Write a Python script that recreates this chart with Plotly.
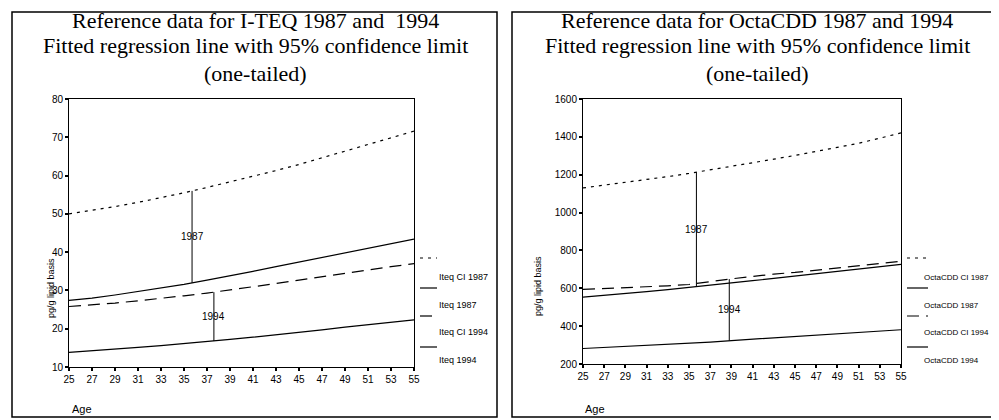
import numpy as np
import plotly.graph_objects as go

# the page body has a default 8px margin; the figure is sized and positioned to fit the window
OFF = 8
WIN_W, WIN_H = 999, 420
W, H = WIN_W - OFF, WIN_H - OFF

# ---------------- data ----------------
ages = [25, 27, 29, 31, 33, 35, 37, 39, 41, 43, 45, 47, 49, 51, 53, 55]
age_ticks = [25, 27, 29, 31, 33, 35, 37, 39, 41, 43, 45, 47, 49, 51, 53, 55]

# I-TEQ (left panel)
iteq_ci_1987 = [50.0, 50.9, 51.9, 53.0, 54.2, 55.5, 56.9, 58.3, 59.8, 61.3, 62.9, 64.6, 66.3, 68.0, 69.8, 71.6]
iteq_1987 = [27.4, 28.0, 28.8, 29.7, 30.6, 31.6, 32.7, 33.8, 35.0, 36.2, 37.4, 38.6, 39.9, 41.1, 42.3, 43.4]
iteq_ci_1994 = [25.8, 26.2, 26.7, 27.3, 27.9, 28.6, 29.3, 30.1, 30.9, 31.8, 32.7, 33.6, 34.5, 35.4, 36.2, 37.0]
iteq_1994 = [13.8, 14.2, 14.6, 15.1, 15.6, 16.1, 16.6, 17.2, 17.8, 18.4, 19.0, 19.7, 20.4, 21.0, 21.7, 22.3]
iteq_yticks = [10, 20, 30, 40, 50, 60, 70, 80]
iteq_mark_age_1987 = 35.7
iteq_mark_age_1994 = 37.6

# OctaCDD (right panel)
octa_ci_1987 = [1130, 1144, 1159, 1174, 1190, 1207, 1225, 1243, 1262, 1282, 1302, 1322, 1344, 1366, 1393, 1421]
octa_1987 = [553, 562, 572, 582, 593, 604, 617, 629, 640, 652, 664, 677, 689, 701, 714, 726]
octa_ci_1994 = [594, 598, 602, 607, 613, 620, 636, 650, 662, 675, 684, 696, 707, 719, 731, 743]
octa_1994 = [282, 287, 292, 297, 302, 308, 316, 324, 331, 337, 344, 352, 359, 366, 373, 381]
octa_yticks = [200, 400, 600, 800, 1000, 1200, 1400, 1600]
octa_mark_age_1987 = 35.7
octa_mark_age_1994 = 38.8

left_titles = ["Reference data for I-TEQ 1987 and  1994",
               "Fitted regression line with 95% confidence limit",
               "(one-tailed)"]
right_titles = ["Reference data for OctaCDD 1987 and 1994",
                "Fitted regression line with 95% confidence limit",
                "(one-tailed)"]
left_legend = ["Iteq CI 1987", "Iteq 1987", "Iteq CI 1994", "Iteq 1994"]
right_legend = ["OctaCDD CI 1987", "OctaCDD 1987", "OctaCDD CI 1994", "OctaCDD 1994"]
y_title = "pg/g lipid basis"
x_title = "Age"

# ---------------- helpers (window pixels -> paper) ----------------
def px(x):
    return (x - OFF) / W

def py(y):
    return 1 - (y - OFF) / H

SERIF = "Liberation Serif, Times New Roman, serif"
NARROW = "Liberation Sans Narrow, Arial Narrow, Liberation Sans, Arial, sans-serif"
SANS = "Liberation Sans, Arial, sans-serif"

DOT = "3px,5px"
DASH = "12px,7px"

fig = go.Figure()

def add_panel(xa, ya, ci87, l87, ci94, l94, m87, m94):
    styles = [(ci87, DOT), (l87, "solid"), (ci94, DASH), (l94, "solid")]
    for vals, dash in styles:
        fig.add_trace(go.Scatter(x=ages, y=vals, mode="lines", xaxis=xa, yaxis=ya,
                                 line=dict(color="black", width=1.2, dash=dash),
                                 showlegend=False, hoverinfo="skip"))
    for age, lo_s, hi_s, lab in [(m87, l87, ci87, "1987"), (m94, l94, ci94, "1994")]:
        lo = float(np.interp(age, ages, lo_s))
        hi = float(np.interp(age, ages, hi_s))
        fig.add_trace(go.Scatter(x=[age, age], y=[lo, hi], mode="lines", xaxis=xa, yaxis=ya,
                                 line=dict(color="black", width=1),
                                 showlegend=False, hoverinfo="skip"))
        fig.add_annotation(x=age, y=(lo + hi) / 2, xref=xa, yref=ya, text=lab,
                           showarrow=False, font=dict(family=NARROW, size=10, color="black"))

add_panel("x", "y", iteq_ci_1987, iteq_1987, iteq_ci_1994, iteq_1994,
          iteq_mark_age_1987, iteq_mark_age_1994)
add_panel("x2", "y2", octa_ci_1987, octa_1987, octa_ci_1994, octa_1994,
          octa_mark_age_1987, octa_mark_age_1994)

axis_common = dict(showline=True, mirror=True, linecolor="black", linewidth=1,
                   ticks="outside", ticklen=3, tickcolor="black", tickwidth=1.5,
                   showgrid=False, zeroline=False,
                   tickfont=dict(family=NARROW, size=10, color="black"))

fig.update_layout(
    width=W, height=H,
    margin=dict(l=0, r=0, t=0, b=0, autoexpand=False),
    paper_bgcolor="white", plot_bgcolor="white",
    showlegend=False,
    xaxis=dict(domain=[px(69), px(414)], range=[25, 55], tickvals=age_ticks,
               anchor="y", **axis_common),
    yaxis=dict(domain=[py(367), py(99)], range=[10, 80], tickvals=iteq_yticks,
               anchor="x", **axis_common),
    xaxis2=dict(domain=[px(583), px(901)], range=[25, 55], tickvals=age_ticks,
                anchor="y2", **axis_common),
    yaxis2=dict(domain=[py(364), py(99)], range=[200, 1600], tickvals=octa_yticks,
                anchor="x2", **axis_common),
)

# outer boxes
fig.add_shape(type="rect", xref="paper", yref="paper",
              x0=px(12), x1=px(497), y0=py(417), y1=py(12),
              line=dict(color="black", width=1.5))
fig.add_shape(type="rect", xref="paper", yref="paper",
              x0=px(512), x1=px(1010), y0=py(417), y1=py(12),
              line=dict(color="black", width=1.5))

# titles
for cx, lines in [(255, left_titles), (757, right_titles)]:
    for i, t in enumerate(lines):
        fig.add_annotation(x=px(cx), y=py([21, 45.5, 73][i]), xref="paper", yref="paper",
                           text=t, showarrow=False, xanchor="center", yanchor="middle",
                           font=dict(family=SERIF, size=22, color="black"))

# legends (manual)
sample_y = [258, 288, 316, 347]
text_y = [277, 305, 332, 360]
dashes = [DOT, "solid", DASH, "solid"]
for x0, x1, tx, labels, fs in [(420, 437, 437, left_legend, 9), (907, 928, 922, right_legend, 8)]:
    for i in range(4):
        fig.add_shape(type="line", xref="paper", yref="paper",
                      x0=px(x0), x1=px(x1), y0=py(sample_y[i]), y1=py(sample_y[i]),
                      line=dict(color="black", width=1.2, dash=dashes[i]))
        fig.add_annotation(x=px(tx), y=py(text_y[i]), xref="paper", yref="paper",
                           text=labels[i], showarrow=False, xanchor="left", yanchor="middle",
                           font=dict(family=NARROW, size=fs, color="black"))

# axis titles
for ax_x, ay in [(44, 320), (538, 318)]:
    fig.add_annotation(x=px(ax_x), y=py(ay), xref="paper", yref="paper", text=y_title,
                       textangle=-90, showarrow=False,
                       font=dict(family=NARROW, size=9, color="black"))
for ax_x in [70, 583]:
    fig.add_annotation(x=px(ax_x), y=py(409), xref="paper", yref="paper", text=x_title,
                       showarrow=False, xanchor="left", yanchor="middle",
                       font=dict(family=SANS, size=11, color="black"))

fig.write_html("out.html")
